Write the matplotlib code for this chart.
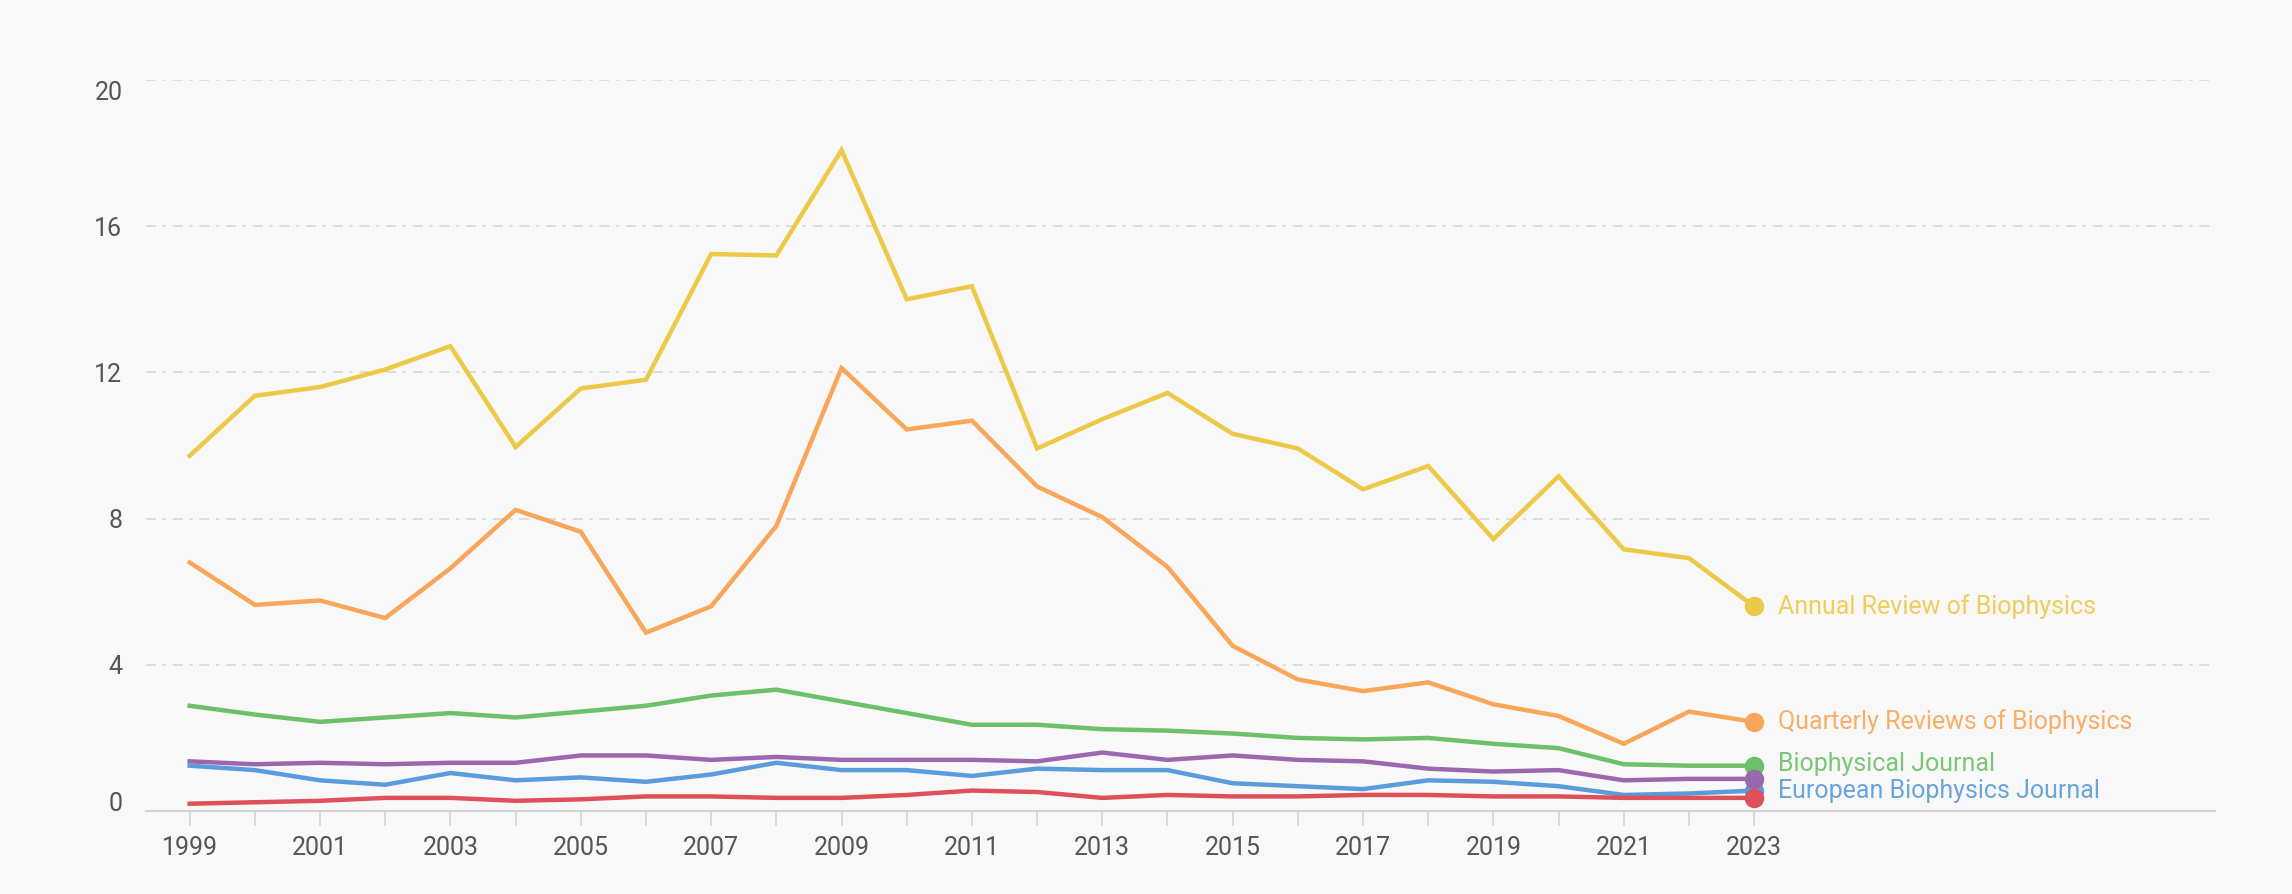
import matplotlib
matplotlib.use('Agg')
import matplotlib.pyplot as plt
import matplotlib.transforms as mtransforms

years = list(range(1999, 2024))

annual_review = [9.72, 11.36, 11.6, 12.08, 12.72, 9.96, 11.56, 11.8, 15.24, 15.2, 18.08, 14.0, 14.36,
                 9.92, 10.72, 11.44, 10.32, 9.92, 8.8, 9.44, 7.44, 9.16, 7.16, 6.92, 5.6]
quarterly_reviews = [6.8, 5.64, 5.76, 5.28, 6.64, 8.24, 7.64, 4.88, 5.6, 7.8, 12.12, 10.44, 10.68,
                     8.88, 8.04, 6.68, 4.52, 3.6, 3.28, 3.52, 2.92, 2.6, 1.84, 2.72, 2.44]
biophysical_journal = [2.88, 2.64, 2.44, 2.56, 2.68, 2.56, 2.72, 2.88, 3.16, 3.32, 3.0, 2.68, 2.36,
                       2.36, 2.24, 2.2, 2.12, 2.0, 1.96, 2.0, 1.84, 1.72, 1.28, 1.24, 1.24]
european_biophysics = [1.24, 1.12, 0.84, 0.72, 1.04, 0.84, 0.92, 0.8, 1.0, 1.32, 1.12, 1.12, 0.96,
                       1.16, 1.12, 1.12, 0.76, 0.68, 0.6, 0.84, 0.8, 0.68, 0.44, 0.48, 0.56]
purple_series = [1.36, 1.28, 1.32, 1.28, 1.32, 1.32, 1.52, 1.52, 1.4, 1.48, 1.4, 1.4, 1.4,
                 1.36, 1.6, 1.4, 1.52, 1.4, 1.36, 1.16, 1.08, 1.12, 0.84, 0.88, 0.88]
red_series = [0.2, 0.24, 0.28, 0.36, 0.36, 0.28, 0.32, 0.4, 0.4, 0.36, 0.36, 0.44, 0.56,
              0.52, 0.36, 0.44, 0.4, 0.4, 0.44, 0.44, 0.4, 0.4, 0.36, 0.36, 0.36]

# draw order matters for the overlapping end dots
series = [
    ('Annual Review of Biophysics', annual_review, '#EDC948', 0),
    ('Quarterly Reviews of Biophysics', quarterly_reviews, '#F9A65A', 0),
    ('Biophysical Journal', biophysical_journal, '#6CC06A', 1.5),
    ('European Biophysics Journal', european_biophysics, '#5A9BDB', 0),
    (None, purple_series, '#9B67AE', 0),
    (None, red_series, '#E0505A', 0),
]

bg = '#f8f8f8'
plt.rcParams['font.family'] = ['Roboto', 'DejaVu Sans']

fig = plt.figure(figsize=(22.92, 8.94), dpi=100, facecolor=bg)
ax = fig.add_axes([0.0637, 0.0928, 0.9027, 0.8177], facecolor=bg)

for name, vals, color, dy in series:
    ax.plot(years, vals, color=color, lw=3.2, solid_joinstyle='miter', zorder=3)
for name, vals, color, dy in series:
    ax.plot(years[-1], vals[-1], 'o', color=color, ms=13, zorder=4)
    if name:
        ax.annotate(name, (years[-1], vals[-1]), xytext=(17, dy), textcoords='offset points',
                    color=color, fontsize=18, va='center', ha='left', alpha=0.9)

ax.set_xlim(1998.33, 2030.07)
ax.set_ylim(0, 20)
ax.set_yticks([0, 4, 8, 12, 16, 20])
ax.set_xticks(range(1999, 2024, 2))
ax.set_xticks([y for y in years if (y - 1999) % 2], minor=True)

ax.grid(axis='y', color='#d8d8d8', lw=1.2, linestyle=(0, (6, 4, 2, 4)))
ax.set_axisbelow(True)
for s in ['top', 'right', 'left']:
    ax.spines[s].set_visible(False)
ax.spines['bottom'].set_color('#d4d4d4')
ax.spines['bottom'].set_linewidth(1.5)

ax.tick_params(axis='x', which='both', length=11, width=1.2, color='#d4d4d4',
               labelsize=18, labelcolor='#555555', pad=7)
ax.tick_params(axis='y', length=0, labelsize=18, labelcolor='#555555', pad=17)

# the "0" label sits a little above the axis line, "20" a little below its grid line
ylabels = ax.get_yticklabels()
ylabels[0].set_transform(ylabels[0].get_transform() +
                         mtransforms.ScaledTranslation(0, 10 / 100, fig.dpi_scale_trans))
ylabels[-1].set_transform(ylabels[-1].get_transform() +
                          mtransforms.ScaledTranslation(0, -10 / 100, fig.dpi_scale_trans))

fig.savefig('out.png', dpi=100, facecolor=bg)
